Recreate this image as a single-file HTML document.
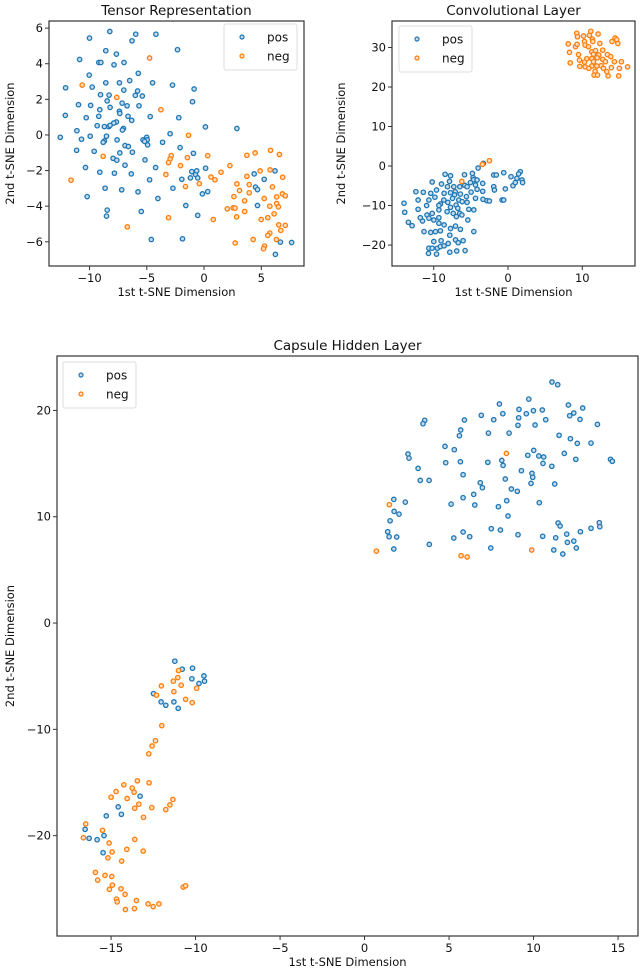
<!DOCTYPE html>
<html><head><meta charset="utf-8">
<style>
html,body{margin:0;padding:0;background:#fff;}
svg{display:block;font-family:"DejaVu Sans","Liberation Sans",sans-serif;}
</style></head>
<body>
<svg id="fig" width="640" height="976" viewBox="0 0 640 976" xmlns="http://www.w3.org/2000/svg"></svg>
<script>
// ---- Tensor Representation data ----
const tensorPos = [[-8.23,5.81],[-10.0,5.44],[-5.97,5.66],[-4.20,5.66],[-6.29,5.29],[-2.32,4.79],[-8.58,4.73],[-7.65,4.54],[-10.87,4.24],[-9.19,4.07],[-9.01,4.07],[-7.86,3.94],[-6.99,4.07],[-5.74,3.46],[-10.03,3.36],[-8.58,2.93],[-7.39,2.93],[-6.49,3.05],[-4.49,2.93],[-12.09,2.65],[-9.77,2.69],[-7.01,2.52],[-5.80,2.47],[-6.00,2.22],[-5.39,2.19],[-2.75,2.80],[-0.87,2.58],[-9.04,2.26],[-8.29,2.24],[-8.46,1.91],[-10.96,1.70],[-9.91,1.66],[-5.68,1.64],[-8.20,1.55],[-7.16,1.79],[-6.72,1.64],[-1.01,1.87],[-7.39,1.33],[-7.36,1.21],[-12.12,1.10],[-9.10,1.42],[-4.70,1.03],[-6.64,1.05],[-9.19,1.05],[-2.20,0.97],[-10.29,0.97],[-6.32,0.82],[-9.33,0.52],[-8.70,0.47],[-8.32,0.47],[-8.20,0.54],[-7.65,0.73],[-7.88,0.67],[-7.04,0.36],[-7.13,0.28],[-11.10,0.24],[0.12,0.45],[2.87,0.36],[-12.55,-0.13],[-10.70,-0.24],[-9.94,-0.07],[-8.52,-0.07],[-5.01,-0.13],[-5.33,-0.28],[-4.96,-0.28],[-5.19,-0.36],[-4.93,-0.56],[-2.96,0.07],[-3.62,-0.41],[-8.70,-0.34],[-8.81,-0.41],[-7.59,-0.28],[-6.90,-0.60],[-6.61,-0.65],[-11.13,-0.86],[-9.59,-0.92],[-7.36,-1.01],[-6.26,-0.97],[-2.09,-0.71],[-7.94,-1.31],[-7.62,-1.42],[-5.16,-1.40],[-0.93,-1.03],[-10.35,-1.83],[-6.90,-1.70],[-4.23,-1.83],[0.14,-1.87],[-9.10,-2.09],[-7.83,-2.15],[-6.35,-2.19],[-1.07,-2.06],[-0.75,-2.22],[-0.64,-2.02],[-0.55,-2.41],[-1.19,-2.41],[-4.75,-2.52],[-1.94,-2.49],[4.38,-2.19],[6.20,-2.02],[5.25,-2.49],[-8.64,-2.99],[-7.19,-3.08],[-5.77,-3.20],[-2.72,-2.99],[0.32,-3.18],[-0.14,-3.31],[4.49,-2.93],[4.67,-3.07],[-10.20,-3.46],[-4.03,-3.57],[-1.59,-3.96],[4.67,-3.96],[-8.46,-4.22],[-8.52,-4.56],[-5.48,-4.30],[-0.55,-4.52],[-4.61,-5.87],[-1.88,-5.83],[6.67,-6.02],[7.65,-6.04],[6.23,-6.71]];
const tensorNeg = [[-4.75,4.32],[-10.64,2.80],[-7.62,2.11],[-3.77,1.42],[-1.36,-0.02],[-8.81,-1.20],[-2.87,-1.16],[-2.96,-1.35],[-3.10,-1.55],[-2.06,-1.72],[-1.45,-1.27],[0.32,-1.16],[-3.33,-2.22],[-11.62,-2.54],[-1.62,-2.90],[-0.41,-2.73],[0.61,-2.36],[0.96,-2.52],[1.48,-2.09],[2.26,-1.72],[3.74,-1.14],[4.46,-1.01],[5.80,-0.86],[6.58,-1.10],[3.74,-2.32],[4.90,-2.02],[5.77,-1.96],[6.87,-2.37],[2.87,-2.75],[3.94,-2.79],[3.10,-3.12],[3.94,-3.25],[5.97,-2.92],[2.61,-3.46],[5.25,-3.57],[6.35,-3.48],[6.84,-3.31],[7.10,-3.42],[3.54,-3.70],[6.35,-3.85],[5.74,-4.0],[6.49,-4.04],[2.03,-4.15],[2.55,-4.09],[2.70,-4.11],[3.54,-4.30],[6.12,-4.43],[2.84,-4.60],[4.99,-4.75],[5.57,-4.65],[-3.10,-4.65],[0.81,-4.75],[6.52,-5.05],[7.10,-5.08],[6.70,-5.36],[-6.70,-5.16],[5.74,-5.51],[5.57,-5.64],[6.32,-5.87],[4.29,-5.87],[2.72,-6.07],[5.28,-6.24],[5.19,-6.39]];
const tensorXTicks = [-10,-5,0,5];
const tensorYTicks = [-6,-4,-2,0,2,4,6];

// ---- Convolutional Layer data ----
const convPos = [[-4.03,-0.5],[-3.31,0.67],[-4.79,-1.86],[-4.70,-2.95],[-8.46,-2.1],[-7.74,-2.45],[-7.87,-3.9],[-5.86,-2.2],[-4.61,-3.45],[-10.2,-4.05],[-8.95,-4.55],[-9.62,-6.07],[-8.14,-5.23],[-7.29,-5.23],[-7.11,-6.5],[-7.2,-7.3],[-6.49,-5.23],[-5.82,-4.9],[-5.5,-5.23],[-5.06,-4.2],[-4.38,-4.8],[-4.16,-5.9],[-3.40,-6.4],[-4.97,-6.6],[-5.6,-7.75],[-6.4,-7.1],[-7.74,-6.75],[-7.47,-8.2],[-8.6,-6.9],[-9.84,-7.9],[-10.4,-6.9],[-10.65,-8.6],[-11.4,-6.65],[-12.4,-6.5],[-12.1,-8.6],[-12.1,-10.96],[-14.0,-9.4],[-13.9,-11.7],[-13.4,-14.25],[-12.9,-15.1],[-11.3,-16.6],[-11.5,-13.9],[-11.8,-13.07],[-10.96,-10.0],[-10.9,-12.4],[-10.65,-13.2],[-10.2,-12.0],[-9.98,-13.66],[-9.3,-13.07],[-9.3,-11.1],[-9.3,-14.5],[-8.6,-14.9],[-9.1,-16.4],[-9.75,-16.6],[-10.4,-16.8],[-9.98,-19.1],[-10.65,-20.8],[-10.7,-22.1],[-10.2,-20.8],[-9.62,-22.3],[-9.5,-20.8],[-9.1,-20.4],[-9.0,-18.9],[-8.6,-20.2],[-8.05,-19.6],[-7.83,-17.5],[-7.74,-15.8],[-7.83,-21.8],[-7.07,-18.7],[-6.9,-21.5],[-6.7,-19.4],[-6.4,-16.0],[-7.07,-15.2],[-6.04,-18.9],[-5.77,-21.4],[-4.6,-16.6],[-6.98,-9.9],[-6.76,-10.7],[-6.94,-12.8],[-6.5,-12.0],[-6.2,-12.4],[-7.38,-12.0],[-7.74,-10.45],[-8.19,-11.55],[-8.1,-9.2],[-8.64,-8.6],[-9.1,-9.6],[-9.3,-10.0],[-6.62,-8.6],[-6.17,-9.0],[-5.5,-9.2],[-5.28,-10.96],[-5.41,-13.66],[-4.6,-11.1],[-4.38,-8.18],[-3.36,-8.43],[-2.82,-8.77],[-2.5,-8.85],[-1.92,-5.23],[-1.83,-6.07],[-1.92,-2.28],[-1.57,-2.28],[-0.58,-1.69],[-0.8,-8.6],[-0.58,-8.6],[-0.36,-5.8],[0.4,-2.7],[0.67,-4.97],[0.98,-4.2],[1.2,-3.1],[1.66,-1.43],[1.88,-3.54],[1.97,-4.2],[1.43,-2.0],[-3.4,-4.4],[-4.16,-3.54]];
const convNeg = [[8.10,30.9],[8.28,28.75],[8.37,26.1],[9.26,33.6],[9.35,32.7],[9.08,30.2],[9.30,30.8],[9.49,28.2],[9.62,26.8],[9.66,25.2],[10.16,32.9],[10.29,31.5],[10.38,30.6],[10.38,25.1],[10.96,33.05],[11.14,34.1],[11.36,32.1],[11.41,31.5],[10.83,30.2],[11.27,28.9],[11.50,28.3],[11.77,29.2],[12.13,33.4],[12.35,31.0],[12.75,29.3],[12.21,28.1],[12.0,27.4],[11.27,27.2],[10.6,27.15],[10.29,26.3],[11.50,26.4],[12.75,27.0],[13.11,26.4],[12.53,25.4],[11.27,25.3],[11.95,25.3],[11.72,24.0],[11.59,23.0],[12.04,23.0],[13.29,23.9],[13.47,22.8],[13.92,24.9],[14.32,26.4],[13.38,28.2],[13.83,27.7],[14.0,31.5],[14.41,32.4],[14.63,32.0],[14.77,31.0],[14.99,24.7],[14.9,22.8],[15.26,26.4],[16.1,25.1],[12.84,24.7],[10.87,24.7],[-6.22,-3.9],[-3.45,0.4],[-2.5,1.35]];
const convXTicks = [-10,0,10];
const convYTicks = [-20,-10,0,10,20,30];

// ---- Capsule Hidden Layer data ----
const capsPos = [[-11.23,-3.59],[-10.79,-4.34],[-10.18,-4.25],[-10.22,-5.25],[-9.51,-4.97],[-9.47,-5.47],[-9.80,-5.69],[-12.49,-6.64],[-12.04,-7.42],[-11.76,-7.74],[-11.28,-7.42],[-11.03,-8.02],[-13.28,-16.29],[-14.58,-17.30],[-14.39,-17.99],[-15.28,-18.14],[-16.54,-19.40],[-16.30,-20.25],[-15.83,-20.38],[-15.42,-20.0],[-15.47,-21.60],
[11.09,22.67],[11.43,22.42],[7.98,20.60],[9.72,21.07],[12.06,20.51],[12.91,20.23],[12.38,19.76],[12.14,19.50],[12.75,19.16],[9.14,20.10],[9.99,19.97],[10.52,20.04],[9.57,19.69],[8.18,19.69],[6.91,19.54],[7.64,19.13],[9.12,19.31],[10.72,19.13],[5.91,19.10],[3.56,19.07],[3.46,18.75],[9.08,18.60],[10.09,18.63],[13.78,18.69],[5.69,18.16],[5.61,17.62],[7.33,17.87],[8.55,17.87],[11.51,17.66],[12.18,17.34],[12.59,16.90],[13.40,16.93],[4.76,16.62],[5.31,16.31],[2.57,15.90],[2.63,15.52],[10.01,16.24],[9.66,15.78],[10.31,15.71],[10.60,15.62],[11.82,15.96],[12.50,15.40],[14.55,15.40],[14.66,15.21],[8.12,15.30],[8.20,14.83],[7.29,15.12],[5.67,15.18],[4.80,15.08],[10.56,15.02],[11.08,14.74],[3.17,14.55],[9.28,14.33],[9.91,14.08],[9.95,13.71],[5.83,13.95],[8.33,13.55],[9.85,13.14],[11.25,13.08],[3.30,13.42],[3.82,13.42],[6.85,13.20],[6.97,12.73],[8.69,12.61],[9.04,12.39],[6.46,12.10],[5.83,11.79],[8.41,11.51],[10.34,11.32],[1.73,11.63],[2.41,11.38],[5.12,11.19],[6.52,11.10],[7.92,10.94],[1.75,10.50],[2.04,10.25],[8.49,10.07],[1.51,9.62],[11.45,9.41],[11.57,9.13],[13.89,9.44],[13.92,9.06],[13.40,8.91],[12.77,8.59],[11.96,8.37],[7.50,8.87],[8.04,8.75],[5.83,8.56],[9.08,8.31],[10.54,8.16],[11.31,8.02],[12.38,7.71],[12.0,7.59],[1.37,8.59],[1.45,8.12],[1.90,8.09],[5.28,8.0],[6.22,8.12],[3.83,7.40],[1.73,6.96],[7.47,7.06],[11.20,6.87],[12.53,7.06],[11.73,6.49]];
const capsNeg = [[-11.01,-4.47],[-11.05,-5.13],[-11.32,-5.47],[-10.85,-5.85],[-12.02,-5.91],[-12.31,-6.79],[-11.28,-6.45],[-9.94,-6.13],[-10.59,-7.17],[-10.20,-7.48],[-12.0,-9.65],[-12.37,-11.07],[-12.57,-11.57],[-12.77,-12.30],[-13.44,-14.84],[-12.75,-15.03],[-14.25,-15.22],[-13.75,-15.53],[-13.64,-15.91],[-14.70,-15.85],[-15.0,-16.38],[-14.05,-16.51],[-13.36,-17.04],[-13.60,-17.42],[-12.59,-17.36],[-11.34,-16.60],[-11.52,-17.11],[-11.76,-17.55],[-13.08,-18.27],[-16.50,-18.90],[-16.64,-20.19],[-15.51,-19.50],[-15.12,-20.69],[-14.94,-21.54],[-15.19,-22.08],[-14.07,-21.29],[-13.60,-20.35],[-13.10,-21.45],[-14.37,-22.39],[-15.93,-23.46],[-15.79,-24.18],[-15.36,-23.74],[-14.96,-23.84],[-14.92,-24.65],[-15.10,-25.06],[-14.41,-25.0],[-14.17,-25.53],[-14.68,-25.97],[-14.64,-26.23],[-13.50,-26.10],[-13.62,-26.86],[-14.15,-26.95],[-12.81,-26.42],[-12.51,-26.67],[-12.17,-26.42],[-10.73,-24.84],[-10.59,-24.72],
[8.39,15.96],[1.47,11.13],[0.70,6.77],[5.71,6.33],[6.07,6.21],[9.89,6.87]];
const capsXTicks = [-15,-10,-5,0,5,10,15];
const capsYTicks = [-20,-10,0,10,20];

const NS = "http://www.w3.org/2000/svg";
const svg = document.getElementById('fig');
function mk(tag, attrs, parent){
  const e = document.createElementNS(NS, tag);
  for (const k in attrs) e.setAttribute(k, attrs[k]);
  parent.appendChild(e); return e;
}
function fmt(v){ return v < 0 ? '\u2212' + Math.abs(v) : String(v); }

function drawPlot(cfg){
  const g = mk('g', {}, svg);
  
  
  const L=cfg.box[0], T=cfg.box[1], R=cfg.box[2], B=cfg.box[3];
  const sx = v => L + (v - cfg.xd[0]) / (cfg.xd[1] - cfg.xd[0]) * (R - L);
  const sy = v => T + (v - cfg.yd[0]) / (cfg.yd[1] - cfg.yd[0]) * (B - T);
  const pts = mk('g', {}, g);
  
  
  const series = [[cfg.pos,'#1f77b4','#c6dcec','pos'],[cfg.neg,'#ff7f0e','#ffdcbc','neg']];
  series.forEach(s => {
    s[0].forEach(p => {
      const c = mk('circle', {cx:sx(p[0]).toFixed(1), cy:sy(p[1]).toFixed(1), r:2.2, fill:s[2], stroke:s[1], 'stroke-width':1.3}, pts);
      
      
    });
  });
  const frame = mk('rect', {x:L, y:T, width:R-L, height:B-T, fill:'none', stroke:'#333', 'stroke-width':1.2}, g);
  
  
  cfg.xt.forEach(v => {
    const x = sx(v);
    mk('line', {x1:x, y1:B, x2:x, y2:B+4, stroke:'#333', 'stroke-width':1}, g);
    const t = mk('text', {x:x, y:B+16, 'font-size':11.5, 'text-anchor':'middle', fill:'#111'}, g);
    t.textContent = fmt(v);
    
    
  });
  cfg.yt.forEach(v => {
    const y = sy(v);
    mk('line', {x1:L-4, y1:y, x2:L, y2:y, stroke:'#333', 'stroke-width':1}, g);
    const t = mk('text', {x:L-6, y:y+4, 'font-size':11.5, 'text-anchor':'end', fill:'#111'}, g);
    t.textContent = fmt(v);
    
    
  });
  const title = mk('text', {x:(L+R)/2, y:T-6, 'font-size':13.5, 'text-anchor':'middle', fill:'#111'}, g);
  title.textContent = cfg.title;
  
  
  const xl = mk('text', {x:(L+R)/2, y:B+30, 'font-size':11.5, 'text-anchor':'middle', fill:'#111'}, g);
  xl.textContent = '1st t-SNE Dimension';
  
  
  const yl = mk('text', {x:0, y:0, 'font-size':11.5, 'text-anchor':'middle', fill:'#111', transform:'translate('+cfg.ylx+','+(T+B)/2+') rotate(-90)'}, g);
  yl.textContent = '2nd t-SNE Dimension';
  
  
  // legend
  const lg = mk('g', {}, g);
  
  
  const lb = cfg.leg;
  mk('rect', {x:lb[0], y:lb[1], width:73, height:46, rx:2, fill:'#fff', 'fill-opacity':0.85, stroke:'#ddd', 'stroke-width':1}, lg);
  [['pos','#1f77b4','#c6dcec'],['neg','#ff7f0e','#ffdcbc']].forEach((e,i) => {
    const cy = lb[1] + 13 + i*19;
    mk('circle', {cx:lb[0]+18, cy:cy, r:2, fill:e[2], stroke:e[1], 'stroke-width':1.2}, lg);
    const t = mk('text', {x:lb[0]+43, y:cy+4.5, 'font-size':12, fill:'#111'}, lg);
    t.textContent = e[0];
    
    
  });
}

drawPlot({name:'tensor-representation-plot', title:'Tensor Representation', box:[49,21,304,266], xd:[-13.54,8.73], yd:[6.40,-7.36], pos:tensorPos, neg:tensorNeg, xt:tensorXTicks, yt:tensorYTicks, ylx:14, leg:[224,24]});
drawPlot({name:'convolutional-layer-plot', title:'Convolutional Layer', box:[392,21,635,266], xd:[-15.61,17.09], yd:[36.7,-25.3], pos:convPos, neg:convNeg, xt:convXTicks, yt:convYTicks, ylx:345, leg:[399,26]});
drawPlot({name:'capsule-hidden-layer-plot', title:'Capsule Hidden Layer', box:[57,356,638,936], xd:[-18.20,16.18], yd:[25.12,-29.44], pos:capsPos, neg:capsNeg, xt:capsXTicks, yt:capsYTicks, ylx:14, leg:[63,362]});
</script>
</body></html>
